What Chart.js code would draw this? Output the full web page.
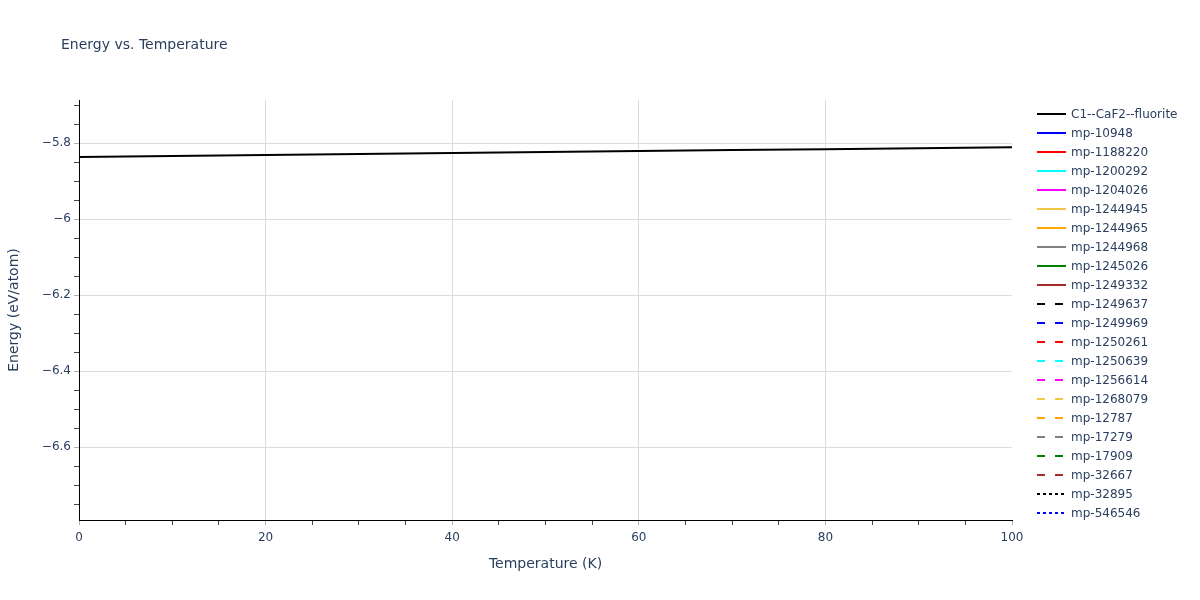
<!DOCTYPE html>
<html>
<head>
<meta charset="utf-8">
<script src="https://cdn.jsdelivr.net/npm/chart.js@4"></script>
<style>
  html, body { margin: 0; padding: 0; background: #fff; }
  #wrap { width: 1200px; height: 600px; position: relative; }
</style>
</head>
<body>
<div id="wrap"><canvas id="c" width="1200" height="600"></canvas></div>
<script>
// ---- data ----
const temperatures = [0, 10, 20, 30, 40, 50, 60, 70, 80, 90, 100];
const energyC1 = [-5.836, -5.8335, -5.831, -5.8283, -5.8256, -5.823, -5.8204, -5.8179, -5.8154, -5.813, -5.8105];
const seriesNames = [
  "C1--CaF2--fluorite", "mp-10948", "mp-1188220", "mp-1200292", "mp-1204026",
  "mp-1244945", "mp-1244965", "mp-1244968", "mp-1245026", "mp-1249332",
  "mp-1249637", "mp-1249969", "mp-1250261", "mp-1250639", "mp-1256614",
  "mp-1268079", "mp-12787", "mp-17279", "mp-17909", "mp-32667",
  "mp-32895", "mp-546546"
];
const seriesColors = [
  "#000000", "#0000ff", "#ff0000", "#00ffff", "#ff00ff",
  "#f0c846", "#ffa500", "#808080", "#008000", "#a52a2a",
  "#000000", "#0000ff", "#ff0000", "#00ffff", "#ff00ff",
  "#f0c846", "#ffa500", "#808080", "#008000", "#a52a2a",
  "#000000", "#0000ff"
];
const seriesStyles = [
  "solid", "solid", "solid", "solid", "solid", "solid", "solid", "solid", "solid", "solid",
  "dash", "dash", "dash", "dash", "dash", "dash", "dash", "dash", "dash", "dash",
  "dot", "dot"
];
const xTickLabels = ["0", "20", "40", "60", "80", "100"];
const yMajorTicks = [-6.6, -6.4, -6.2, -6, -5.8];

// ---- build datasets ----
const dashFor = s => s === "dash" ? [8, 10] : (s === "dot" ? [3, 3] : []);
const datasets = seriesNames.map((name, i) => ({
  label: name,
  data: i === 0 ? temperatures.map((t, k) => ({ x: t, y: energyC1[k] })) : [],
  borderColor: seriesColors[i],
  backgroundColor: seriesColors[i],
  borderWidth: 2,
  borderDash: dashFor(seriesStyles[i]),
  pointRadius: 0,
  tension: 0,
  fill: false
}));

const FONT = "'DejaVu Sans', Verdana, sans-serif";
const TEXT = "#2a3f5f";

const isMult = (v, step) => Math.abs(Math.round(v / step) * step - v) < 1e-6;
const fmt = v => {
  const r = Math.round(v * 10) / 10;
  return String(r).replace("-", "\u2212");
};

const titleAndLegend = {
  id: "titleAndLegend",
  afterDraw(chart) {
    const ctx = chart.ctx;
    ctx.save();
    ctx.fillStyle = TEXT;
    ctx.font = "14px " + FONT;
    ctx.textAlign = "left";
    ctx.textBaseline = "middle";
    ctx.fillText("Energy vs. Temperature", 61, 45);
    // legend
    ctx.font = "12px " + FONT;
    chart.data.datasets.forEach((ds, i) => {
      const y = 114 + i * 19;
      ctx.beginPath();
      ctx.strokeStyle = ds.borderColor;
      ctx.lineWidth = 2;
      ctx.setLineDash(ds.borderDash || []);
      ctx.moveTo(1037, y);
      ctx.lineTo(1066, y);
      ctx.stroke();
      ctx.setLineDash([]);
      ctx.fillStyle = TEXT;
      ctx.fillText(ds.label, 1071, y + 1);
    });
    ctx.restore();
  }
};

new Chart(document.getElementById("c"), {
  type: "line",
  data: { datasets },
  options: {
    responsive: false,
    devicePixelRatio: 1,
    animation: false,
    layout: { padding: { left: 0, right: 188, top: 100, bottom: 0 } },
    plugins: { legend: { display: false }, title: { display: false }, tooltip: { enabled: false } },
    scales: {
      x: {
        type: "linear",
        min: 0, max: 100,
        afterFit(s) { s.height = 80; },
        border: { display: true, color: "#000", width: 1 },
        grid: {
          color: c => (c.tick && isMult(c.tick.value, 20) && c.tick.value > 0 && c.tick.value < 100) ? "#dcdcdc" : "rgba(0,0,0,0)",
          tickColor: c => (c.tick && isMult(c.tick.value, 20)) ? "#b0b0b0" : "#444",
          tickLength: 5,
          drawOnChartArea: true
        },
        ticks: {
          stepSize: 5,
          autoSkip: false,
          maxRotation: 0,
          includeBounds: false,
          padding: 6,
          color: TEXT,
          font: { family: FONT, size: 12 },
          callback: v => {
            const idx = xTickLabels.indexOf(String(Math.round(v)));
            return (isMult(v, 20) && idx >= 0) ? xTickLabels[idx] : "";
          }
        },
        title: {
          display: true, text: "Temperature (K)", color: TEXT,
          font: { family: FONT, size: 14 },
          padding: { top: 0, bottom: 27 }
        }
      },
      y: {
        type: "linear",
        min: -6.792, max: -5.686,
        afterFit(s) { s.width = 79; },
        border: { display: true, color: "#000", width: 1 },
        grid: {
          color: c => (c.tick && yMajorTicks.some(m => Math.abs(m - c.tick.value) < 1e-6)) ? "#dcdcdc" : "rgba(0,0,0,0)",
          tickColor: c => (c.tick && yMajorTicks.some(m => Math.abs(m - c.tick.value) < 1e-6)) ? "#b0b0b0" : "#444",
          tickLength: 5
        },
        ticks: {
          stepSize: 0.05,
          autoSkip: false,
          includeBounds: false,
          padding: 3,
          color: TEXT,
          font: { family: FONT, size: 12 },
          callback: v => yMajorTicks.some(m => Math.abs(m - v) < 1e-6) ? fmt(v) : ""
        },
        title: {
          display: true, text: "Energy (eV/atom)", color: TEXT,
          font: { family: FONT, size: 14 },
          padding: { top: 6, bottom: 0 }
        }
      }
    }
  },
  plugins: [titleAndLegend]
});
</script>
</body>
</html>
